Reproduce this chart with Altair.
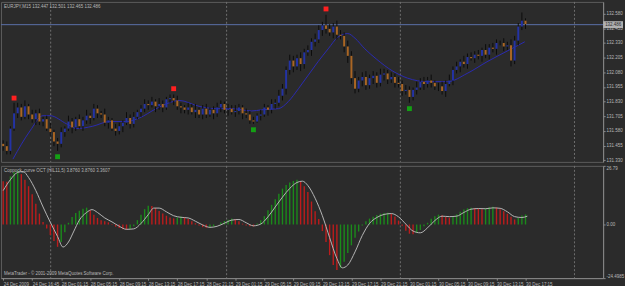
import altair as alt
import pandas as pd

# ---------------- data ----------------
header_text = "EURJPY,M15  132.447 132.501 132.465 132.486"
osc_title = "Coppock_curve OCT  (HIL11,5) 3.8760 3.8760 3.3607"
copyright_text = "MetaTrader - \u00a9 2001-2009 MetaQuotes Software Corp."
current_price = 132.486
current_label = "132.486"

first_open = 131.47
closes = [
    131.45, 131.41, 131.60, 131.73, 131.78, 131.70, 131.79, 131.72, 131.68, 131.73,
    131.66, 131.68, 131.60, 131.57, 131.49, 131.47, 131.57, 131.60, 131.66, 131.61,
    131.68, 131.62, 131.67, 131.71, 131.69, 131.77, 131.73, 131.72, 131.65, 131.67,
    131.60, 131.58, 131.62, 131.65, 131.69, 131.64, 131.70, 131.74, 131.77, 131.81,
    131.80, 131.83, 131.79, 131.81, 131.78, 131.85, 131.86, 131.84, 131.79, 131.78,
    131.76, 131.78, 131.74, 131.76, 131.72, 131.77, 131.72, 131.76, 131.73, 131.78,
    131.81, 131.76, 131.77, 131.74, 131.75, 131.78, 131.73, 131.72, 131.67, 131.66,
    131.71, 131.72, 131.78, 131.76, 131.81, 131.82, 131.88, 131.94, 132.10, 132.18,
    132.13, 132.20, 132.15, 132.25, 132.27, 132.34, 132.36, 132.44, 132.48, 132.45,
    132.42, 132.47, 132.40, 132.39, 132.30, 132.22, 132.03, 131.94, 132.01, 132.04,
    131.97, 132.03, 132.05, 131.99, 132.06, 132.07, 132.02, 132.04, 131.99, 131.98,
    131.92, 131.93, 131.87, 131.93, 131.95, 132.00, 131.98, 132.01, 131.99, 131.96,
    131.96, 131.92, 131.98, 132.01, 132.10, 132.13, 132.17, 132.15, 132.21, 132.20,
    132.23, 132.22, 132.27, 132.23, 132.29, 132.28, 132.33, 132.33, 132.30, 132.31,
    132.18, 132.35, 132.47, 132.52, 132.49,
]
upper_wick = [
    0.03, 0.04, 0.02, 0.09, 0.04, 0.03, 0.05, 0.02, 0.04, 0.03,
    0.04, 0.02, 0.03, 0.05, 0.02, 0.03, 0.04, 0.02, 0.05, 0.03,
    0.02, 0.04, 0.03, 0.05, 0.02, 0.04, 0.03, 0.02, 0.05, 0.03,
    0.02, 0.04, 0.03, 0.02, 0.05, 0.03, 0.04, 0.02, 0.03, 0.04,
    0.03, 0.04, 0.02, 0.05, 0.03, 0.02, 0.03, 0.03, 0.04, 0.03,
    0.02, 0.04, 0.03, 0.05, 0.02, 0.03, 0.04, 0.02, 0.03, 0.04,
    0.03, 0.02, 0.04, 0.03, 0.05, 0.03, 0.02, 0.04, 0.03, 0.03,
    0.02, 0.04, 0.03, 0.02, 0.04, 0.03, 0.05, 0.04, 0.03, 0.05,
    0.04, 0.03, 0.05, 0.03, 0.04, 0.03, 0.05, 0.04, 0.03, 0.09,
    0.04, 0.03, 0.05, 0.04, 0.03, 0.05, 0.04, 0.06, 0.03, 0.04,
    0.05, 0.03, 0.04, 0.03, 0.05, 0.04, 0.03, 0.04, 0.03, 0.05,
    0.03, 0.04, 0.03, 0.02, 0.05, 0.03, 0.04, 0.03, 0.05, 0.02,
    0.03, 0.04, 0.03, 0.05, 0.03, 0.04, 0.02, 0.05, 0.03, 0.04,
    0.03, 0.04, 0.02, 0.05, 0.03, 0.04, 0.03, 0.02, 0.04, 0.03,
    0.05, 0.04, 0.03, 0.07, 0.02,
]
lower_wick = [
    0.04, 0.03, 0.03, 0.02, 0.04, 0.03, 0.02, 0.04, 0.03, 0.05,
    0.03, 0.04, 0.02, 0.03, 0.04, 0.06, 0.03, 0.04, 0.02, 0.05,
    0.03, 0.02, 0.04, 0.03, 0.05, 0.02, 0.04, 0.03, 0.03, 0.05,
    0.02, 0.04, 0.03, 0.05, 0.02, 0.04, 0.03, 0.02, 0.04, 0.03,
    0.04, 0.02, 0.05, 0.03, 0.04, 0.02, 0.03, 0.04, 0.03, 0.05,
    0.03, 0.04, 0.02, 0.05, 0.03, 0.04, 0.03, 0.02, 0.05, 0.03,
    0.04, 0.03, 0.05, 0.02, 0.04, 0.03, 0.05, 0.03, 0.03, 0.02,
    0.01, 0.04, 0.02, 0.05, 0.03, 0.04, 0.03, 0.04, 0.05, 0.04,
    0.05, 0.03, 0.06, 0.04, 0.03, 0.05, 0.04, 0.03, 0.05, 0.04,
    0.03, 0.05, 0.04, 0.03, 0.05, 0.06, 0.05, 0.04, 0.03, 0.05,
    0.04, 0.03, 0.05, 0.04, 0.03, 0.05, 0.04, 0.03, 0.04, 0.03,
    0.04, 0.03, 0.05, 0.03, 0.04, 0.02, 0.05, 0.03, 0.04, 0.03,
    0.04, 0.03, 0.05, 0.02, 0.04, 0.03, 0.05, 0.03, 0.04, 0.02,
    0.04, 0.03, 0.05, 0.03, 0.04, 0.03, 0.05, 0.02, 0.04, 0.03,
    0.05, 0.03, 0.04, 0.03, 0.04,
]

# moving average (sparse points)
ma_idx = [2.7, 7.4, 11.0, 12.9, 17.5, 20.3, 24.7, 29.3, 34.0, 37.5, 42.2, 45.8, 48.5,
          54.0, 58.6, 63.0, 68.5, 71.2, 75.9, 78.6, 81.4, 86.8, 89.6, 92.3, 95.0, 97.0,
          99.7, 103.0, 107.4, 111.5, 117.0, 122.5, 127.9, 133.4, 138.9, 143.8]
ma_val = [131.34, 131.58, 131.71, 131.71, 131.64, 131.60, 131.62, 131.66, 131.66, 131.69,
          131.77, 131.82, 131.84, 131.79, 131.77, 131.77, 131.75, 131.76, 131.77, 131.83,
          131.94, 132.17, 132.28, 132.38, 132.41, 132.37, 132.28, 132.19, 132.09, 132.03,
          132.00, 132.00, 132.07, 132.17, 132.26, 132.34]

# fractal markers
top_idx = [3, 47, 89]
top_val = [131.86, 131.94, 132.62]
bottom_idx = [15, 69, 112]
bottom_val = [131.36, 131.59, 131.77]

# day separators (candle index)
sep_idx = [13.1, 61.6, 109.5, 157.5]

# oscillator histogram
hist = [
    19.8, 19.5, 22.0, 24.0, 24.6, 23.0, 20.4, 17.5, 13.8, 9.5,
    5.0, 1.2, -1.8, -4.8, -7.5, -10.2, -8.0, -3.5, 0.8, 3.4,
    5.2, 6.3, 7.2, 7.7, 6.5, 4.5, 3.0, 2.0, 1.5, 1.0,
    0.2, -1.0, -1.6, -2.2, -2.4, -2.0, -0.8, 2.0, 4.5, 7.0,
    8.6, 8.4, 7.5, 6.2, 5.0, 4.0, 3.2, 2.8, 3.2, 3.6,
    3.4, 2.5, 1.5, 0.6, -0.4, -1.2, -1.5, -1.2, -0.9, 0.0,
    0.9, 1.6, 2.2, 2.7, 2.5, 1.5, 0.4, -0.4, -0.8, -0.9,
    0.5, 2.0, 3.8, 6.5, 9.0, 11.5, 14.0, 16.4, 18.0, 19.2,
    19.9, 20.4, 19.5, 17.5, 14.8, 10.5, 6.0, 2.5, -3.0, -8.0,
    -14.0, -18.5, -20.8, -19.8, -17.0, -13.0, -9.5, -6.0, -3.2, -0.5,
    1.5, 2.7, 3.5, 4.3, 4.9, 5.3, 5.4, 4.8, 3.7, 1.8,
    -0.6, -2.8, -4.2, -4.5, -3.8, -2.5, -0.8, 0.8, 2.6, 3.8,
    4.5, 4.2, 3.4, 3.1, 3.8, 4.6, 5.8, 6.8, 7.4, 7.7,
    7.5, 7.2, 7.0, 7.4, 7.9, 8.1, 7.8, 7.0, 6.0, 4.9,
    3.5, 2.3, 3.0, 4.1, 4.6,
]
sig_idx = [0, 2, 4, 5.5, 7, 9, 11, 13, 15, 16.5, 18, 19.5, 21, 23, 24.5, 26, 28, 30, 32,
           34, 36, 38, 40, 41.5, 43, 45, 47, 49, 51, 53, 55, 57, 59, 61, 63, 65, 67, 69,
           71, 73, 75, 77, 79, 81, 82.5, 84, 86, 88, 90, 92, 93.5, 95, 97, 99, 101, 103,
           105, 107, 109, 111, 113, 115, 117, 119, 121, 123, 125, 127, 129, 131, 133, 135,
           137, 139, 141, 143, 144.5]
sig_val = [15.5, 20.5, 23.8, 24.2, 21.5, 15.5, 8.0, 1.0, -5.5, -10.3, -8.0, -3.0, 2.0,
           5.5, 6.8, 5.5, 3.0, 1.2, -0.8, -2.2, -2.0, 0.5, 4.5, 7.5, 7.5, 5.8, 4.0, 3.3,
           3.0, 1.5, -0.2, -1.3, -0.8, 0.6, 2.0, 2.3, 0.8, -0.6, 0.2, 3.5, 8.0, 12.5,
           16.5, 19.2, 19.8, 17.8, 12.0, 4.0, -6.0, -15.5, -19.8, -18.5, -12.5, -5.0, 0.5,
           3.2, 4.6, 5.0, 3.5, 0.2, -3.0, -3.8, -1.5, 1.8, 3.8, 3.6, 3.8, 5.5, 7.0, 7.3,
           7.2, 7.6, 7.4, 5.8, 3.6, 3.2, 3.8]

# axes
price_ticks = [131.330, 131.455, 131.580, 131.705, 131.830, 131.955, 132.080,
               132.205, 132.330, 132.455, 132.580]
price_domain = [131.316, 132.680]
osc_domain = [-24.4985, 26.79]
osc_ticks = [-24.4985, 0.0, 26.79]
osc_tick_text = ["-24.4985", "0.00", "26.79"]
time_labels = ["24 Dec 2009", "24 Dec 16:45", "28 Dec 01:15", "28 Dec 05:15",
               "28 Dec 09:15", "28 Dec 13:15", "28 Dec 17:15", "28 Dec 21:15",
               "29 Dec 01:15", "29 Dec 05:15", "29 Dec 09:15", "29 Dec 13:15",
               "29 Dec 17:15", "29 Dec 21:15", "30 Dec 01:15", "30 Dec 05:15",
               "30 Dec 09:15", "30 Dec 13:15", "30 Dec 17:15"]
candles_per_label = 8

# ---------------- tables ----------------
opens = [first_open] + closes[:-1]
candles = pd.DataFrame({
    "i": list(range(len(closes))),
    "open": opens,
    "close": closes,
    "high": [max(o, c) + u for o, c, u in zip(opens, closes, upper_wick)],
    "low": [min(o, c) - d for o, c, d in zip(opens, closes, lower_wick)],
    "dir": ["bull" if c >= o else "bear" for o, c in zip(opens, closes)],
})
ma_df = pd.DataFrame({"i": ma_idx, "v": ma_val})
tops = pd.DataFrame({"i": top_idx, "v": top_val})
bottoms = pd.DataFrame({"i": bottom_idx, "v": bottom_val})
seps = pd.DataFrame({"i": sep_idx})
cur = pd.DataFrame({"p": [current_price], "t": [current_label]})
hist_df = pd.DataFrame({
    "i": list(range(len(hist))),
    "v": hist,
    "zero": [0.0] * len(hist),
    "dir": ["down"] + ["up" if b > a else "down" for a, b in zip(hist[:-1], hist[1:])],
})
sig_df = pd.DataFrame({"i": sig_idx, "v": sig_val})

FONT = "Liberation Sans"
TXT = "#b8b8b8"
W = 606
xscale = alt.Scale(domain=[-0.6, 165.4], nice=False, zero=False)
pscale = alt.Scale(domain=price_domain, nice=False, zero=False)
oscale = alt.Scale(domain=osc_domain, nice=False, zero=False)

X = alt.X("i:Q", scale=xscale, axis=None, title=None)

price_axis = alt.Axis(orient="right", values=price_ticks, format=".3f", labelFontSize=4.5,
                      labelColor=TXT, labelFont=FONT, tickSize=2, tickColor="#8a8a8a",
                      domainColor="#8a8a8a", labelPadding=1, grid=False, labelOverlap=False,
                      title=None)

def yp(field):
    return alt.Y(field, scale=pscale, title=None, axis=price_axis)

sep_layer = alt.Chart(seps).mark_rule(color="#707070", strokeDash=[2, 2], strokeWidth=1).encode(x=X)

wicks = alt.Chart(candles).mark_rule(color="#0c0c0c", strokeWidth=1).encode(
    x=X, y=yp("low:Q"), y2="high:Q")
bull = alt.Chart(candles).transform_filter("datum.dir == 'bull'").mark_rule(
    color="#2433a4", strokeWidth=2).encode(x=X, y=yp("open:Q"), y2="close:Q")
bear = alt.Chart(candles).transform_filter("datum.dir == 'bear'").mark_rule(
    color="#aa6624", strokeWidth=2).encode(x=X, y=yp("open:Q"), y2="close:Q")
ma_line = alt.Chart(ma_df).mark_line(color="#2a2ab0", strokeWidth=1, interpolate="monotone").encode(
    x=X, y=yp("v:Q"))
price_line = alt.Chart(cur).mark_rule(color="#5b70a8", strokeWidth=1).encode(y=yp("p:Q"))
top_marks = alt.Chart(tops).mark_point(shape="square", filled=True, size=24, color="#ff2020",
                                        opacity=1).encode(x=X, y=yp("v:Q"))
bot_marks = alt.Chart(bottoms).mark_point(shape="square", filled=True, size=24, color="#14a014",
                                           opacity=1).encode(x=X, y=yp("v:Q"))
header = alt.Chart(pd.DataFrame({"t": [header_text]})).mark_text(
    align="left", baseline="middle", fontSize=4.5, font=FONT, color=TXT).encode(
    x=alt.value(3), y=alt.value(5), text="t:N")
cur_box = alt.Chart(cur).mark_tick(orient="horizontal", size=20, thickness=7, color="#b0b0b0",
                                   opacity=1).encode(x=alt.value(616), y=yp("p:Q"))
cur_txt = alt.Chart(cur).mark_text(align="left", baseline="middle", fontSize=4.5, font=FONT,
                                   color="#2a2a2a").encode(x=alt.value(608), y=yp("p:Q"), text="t:N")

top = alt.layer(sep_layer, price_line, ma_line, wicks, bull, bear, top_marks, bot_marks,
                header, cur_box, cur_txt).properties(width=W, height=161)

# ---------------- oscillator panel ----------------
osc_axis = alt.Axis(orient="right", values=osc_ticks, labelFontSize=4.5, labelColor=TXT,
                    labelFont=FONT, tickSize=2, tickColor="#8a8a8a", domainColor="#8a8a8a",
                    labelPadding=1, grid=False, labelFlush=True, labelOverlap=False, title=None,
                    labelExpr="datum.value > 1 ? '%s' : (datum.value < -1 ? '%s' : '%s')"
                    % (osc_tick_text[2], osc_tick_text[0], osc_tick_text[1]))
time_expr = "[" + ",".join("'%s'" % t for t in time_labels) + "][round(datum.value / %d)]" % candles_per_label
x_axis = alt.Axis(values=[candles_per_label * k for k in range(len(time_labels))],
                  labelExpr=time_expr, labelAlign="left", labelFontSize=4.5, labelFont=FONT,
                  labelColor=TXT, tickSize=2, tickColor="#8a8a8a", domainColor="#8a8a8a",
                  labelPadding=1, grid=False, labelOverlap=False, labelFlush=False, title=None)
Xb = alt.X("i:Q", scale=xscale, axis=x_axis, title=None)

def yo(field):
    return alt.Y(field, scale=oscale, title=None, axis=osc_axis)

sep_b = alt.Chart(seps).mark_rule(color="#707070", strokeDash=[2, 2], strokeWidth=1).encode(x=Xb)
h_up = alt.Chart(hist_df).transform_filter("datum.dir == 'up'").mark_rule(
    color="#1b8a1b", strokeWidth=1.4).encode(x=Xb, y=yo("zero:Q"), y2="v:Q")
h_dn = alt.Chart(hist_df).transform_filter("datum.dir == 'down'").mark_rule(
    color="#bc1c1c", strokeWidth=1.4).encode(x=Xb, y=yo("zero:Q"), y2="v:Q")
sig = alt.Chart(sig_df).mark_line(color="#b4b4b4", strokeWidth=1, interpolate="monotone").encode(
    x=Xb, y=yo("v:Q"))
osc_head = alt.Chart(pd.DataFrame({"t": [osc_title]})).mark_text(
    align="left", baseline="middle", fontSize=4.5, font=FONT, color=TXT).encode(
    x=alt.value(3), y=alt.value(5), text="t:N")
copy_txt = alt.Chart(pd.DataFrame({"t": [copyright_text]})).mark_text(
    align="left", baseline="middle", fontSize=4.5, font=FONT, color=TXT).encode(
    x=alt.value(3), y=alt.value(109), text="t:N")

bottom = alt.layer(sep_b, h_up, h_dn, sig, osc_head, copy_txt).properties(width=W, height=113)

chart = alt.vconcat(top, bottom, spacing=2).configure(
    background="#2b2b2b", padding=0).configure_view(stroke="#5c5c5c", strokeWidth=1)

chart.save("out.html", embed_options={"renderer": "svg", "actions": False})
